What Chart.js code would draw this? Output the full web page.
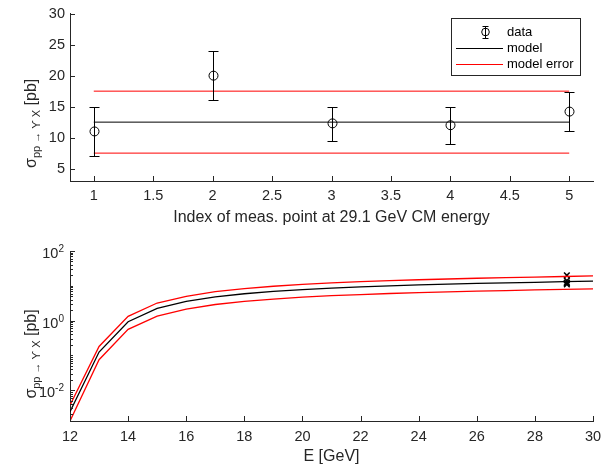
<!DOCTYPE html>
<html>
<head>
<meta charset="utf-8">
<script src="https://cdn.jsdelivr.net/npm/chart.js@4.4.0/dist/chart.umd.min.js"></script>
<style>
    html, body { margin: 0; padding: 0; background: #fff; }
    #wrap { position: relative; width: 611px; height: 465px; }
    #topChart { position: absolute; left: 0; top: 0; }
    #botChart { position: absolute; left: 0; top: 230px; }
</style>
</head>
<body>
<div id="wrap">
    <canvas id="topChart" width="611" height="230"></canvas>
    <canvas id="botChart" width="611" height="235"></canvas>
</div>
<script>
// top panel: measurements at 29.1 GeV
var pointIndex = [1, 2, 3, 4, 5];
var measValues = [11, 20, 12.3, 12, 14.2];
var measErrLow = [4, 4, 2.8, 3, 3.2];
var measErrHigh = [4, 4, 2.7, 3, 3.2];
var modelValue = 12.5;
var modelErrUpper = 17.5;
var modelErrLower = 7.5;
var indexTicks = [1, 1.5, 2, 2.5, 3, 3.5, 4, 4.5, 5];
var topYTicks = [5, 10, 15, 20, 25, 30];

// bottom panel: model vs energy
var energies = [12, 13, 14, 15, 16, 17, 18, 19, 20, 21, 22, 23, 24, 25, 26, 27, 28, 29, 30];
var modelCurve = [0.0024, 0.125, 0.93, 2.25, 3.55, 4.8, 5.9, 6.9, 7.8, 8.6, 9.3, 10.0, 10.6, 11.2, 11.7, 12.2, 12.6, 13.1, 13.6];
var modelCurveUpper = [0.0037, 0.18, 1.32, 3.2, 5.0, 6.8, 8.3, 9.7, 11.0, 12.1, 13.1, 14.1, 14.9, 15.7, 16.5, 17.2, 17.8, 18.5, 19.2];
var modelCurveLower = [0.0013, 0.075, 0.56, 1.35, 2.15, 2.9, 3.55, 4.15, 4.7, 5.2, 5.6, 6.0, 6.4, 6.7, 7.0, 7.3, 7.6, 7.9, 8.2];
var measEnergy = 29.1;
var energyTicks = [12, 14, 16, 18, 20, 22, 24, 26, 28, 30];
var logTicks = [0.01, 1, 100];

var FONT = '"Liberation Sans", Arial, Helvetica, sans-serif';
var AXIS_COLOR = '#262626';
var TICK_SIZE = 14.5;

function xyPairs(xs, ys) {
    return xs.map(function(x, i) { return { x: x, y: ys[i] }; });
}

function drawInnerTicks(chart, len) {
    var ctx = chart.ctx, a = chart.chartArea;
    var xs = chart.scales.x, ys = chart.scales.y;
    ctx.save();
    ctx.strokeStyle = AXIS_COLOR;
    ctx.lineWidth = 1;
    ctx.beginPath();
    xs.ticks.forEach(function(t) {
        var x = Math.round(xs.getPixelForValue(t.value)) + 0.5;
        ctx.moveTo(x, a.bottom);
        ctx.lineTo(x, a.bottom - len);
    });
    ys.ticks.forEach(function(t) {
        var y = Math.round(ys.getPixelForValue(t.value)) + 0.5;
        ctx.moveTo(a.left, y);
        ctx.lineTo(a.left + len, y);
    });
    ctx.stroke();
    ctx.restore();
}

function drawYLabel(ctx, x, cy) {
    var parts = [
        { text: '\u03C3', size: 16, dy: 0 },
        { text: 'pp \u2192 \u03D2 X', size: 11, dy: 4 },
        { text: ' [pb]', size: 16, dy: 0 }
    ];
    ctx.save();
    ctx.fillStyle = AXIS_COLOR;
    var total = 0;
    parts.forEach(function(p) {
        ctx.font = p.size + 'px ' + FONT;
        p.w = ctx.measureText(p.text).width;
        total += p.w;
    });
    ctx.translate(x, cy);
    ctx.rotate(-Math.PI / 2);
    ctx.textAlign = 'left';
    ctx.textBaseline = 'alphabetic';
    var px = -total / 2;
    parts.forEach(function(p) {
        ctx.font = p.size + 'px ' + FONT;
        ctx.fillText(p.text, px, p.dy);
        px += p.w;
    });
    ctx.restore();
}

function drawErrorGlyph(ctx, x, y, yLow, yHigh, r, cap) {
    ctx.beginPath();
    ctx.moveTo(x, yLow); ctx.lineTo(x, yHigh);
    ctx.moveTo(x - cap, yLow); ctx.lineTo(x + cap, yLow);
    ctx.moveTo(x - cap, yHigh); ctx.lineTo(x + cap, yHigh);
    ctx.stroke();
    ctx.beginPath();
    ctx.arc(x, y, r, 0, Math.PI * 2);
    ctx.stroke();
}

var topDecor = {
    id: 'topDecor',
    afterDatasetsDraw: function(chart) {
        var ctx = chart.ctx, xs = chart.scales.x, ys = chart.scales.y;
        ctx.save();
        ctx.strokeStyle = '#000';
        ctx.lineWidth = 1;
        pointIndex.forEach(function(p, i) {
            var x = Math.round(xs.getPixelForValue(p)) + 0.5;
            drawErrorGlyph(ctx, x,
                ys.getPixelForValue(measValues[i]),
                Math.round(ys.getPixelForValue(measValues[i] - measErrLow[i])) + 0.5,
                Math.round(ys.getPixelForValue(measValues[i] + measErrHigh[i])) + 0.5,
                4.5, 5);
        });
        ctx.restore();
    },
    afterDraw: function(chart) {
        var ctx = chart.ctx, a = chart.chartArea;
        drawInnerTicks(chart, 5);
        drawYLabel(ctx, 36, (a.top + a.bottom) / 2 + 26);

        // legend box
        var bx = 451.5, by = 18.5, bw = 129, bh = 57;
        ctx.save();
        ctx.fillStyle = '#fff';
        ctx.fillRect(bx, by, bw, bh);
        ctx.strokeStyle = AXIS_COLOR;
        ctx.lineWidth = 1;
        ctx.strokeRect(bx, by, bw, bh);

        ctx.strokeStyle = '#000';
        drawErrorGlyph(ctx, 485.5, 32, 38.5, 26.5, 3.8, 3);
        ctx.beginPath();
        ctx.moveTo(456, 48.5); ctx.lineTo(503, 48.5);
        ctx.stroke();
        ctx.strokeStyle = '#ff0000';
        ctx.beginPath();
        ctx.moveTo(456, 64.5); ctx.lineTo(503, 64.5);
        ctx.stroke();

        ctx.fillStyle = '#000';
        ctx.font = '13px ' + FONT;
        ctx.textAlign = 'left';
        ctx.textBaseline = 'middle';
        ctx.fillText('data', 507, 32);
        ctx.fillText('model', 507, 48.5);
        ctx.fillText('model error', 507, 64.5);
        ctx.restore();
    }
};

var botDecor = {
    id: 'botDecor',
    afterDraw: function(chart) {
        var ctx = chart.ctx, a = chart.chartArea, ys = chart.scales.y;
        drawInnerTicks(chart, 5);

        // minor log ticks
        ctx.save();
        ctx.strokeStyle = AXIS_COLOR;
        ctx.lineWidth = 1;
        ctx.beginPath();
        for (var k = -3; k <= 1; k++) {
            for (var m = 1; m <= 9; m++) {
                var v = m * Math.pow(10, k);
                if (v < ys.min || v > ys.max) continue;
                var y = Math.round(ys.getPixelForValue(v)) + 0.5;
                ctx.moveTo(a.left, y);
                ctx.lineTo(a.left + 3, y);
            }
        }
        ctx.stroke();

        // 10^n tick labels
        ctx.fillStyle = AXIS_COLOR;
        ctx.textBaseline = 'alphabetic';
        ctx.textAlign = 'left';
        logTicks.forEach(function(v) {
            var expo = String(Math.round(Math.log10(v)));
            var y = ys.getPixelForValue(v);
            ctx.font = '10px ' + FONT;
            var sw = ctx.measureText(expo).width;
            ctx.font = TICK_SIZE + 'px ' + FONT;
            var bw = ctx.measureText('10').width;
            var right = a.left - 6;
            ctx.fillText('10', right - sw - bw, y + 7);
            ctx.font = '10px ' + FONT;
            ctx.fillText(expo, right - sw, y + 1);
        });
        ctx.restore();

        drawYLabel(ctx, 36, (a.top + a.bottom) / 2 + 18);
    }
};

var topChart = new Chart(document.getElementById('topChart'), {
    type: 'scatter',
    data: {
        datasets: [
            { data: xyPairs([1, 5], [modelErrUpper, modelErrUpper]), showLine: true, borderColor: '#ff0000', borderWidth: 1, pointRadius: 0 },
            { data: xyPairs([1, 5], [modelErrLower, modelErrLower]), showLine: true, borderColor: '#ff0000', borderWidth: 1, pointRadius: 0 },
            { data: xyPairs([1, 5], [modelValue, modelValue]), showLine: true, borderColor: '#000', borderWidth: 1, pointRadius: 0 }
        ]
    },
    options: {
        responsive: false,
        animation: false,
        layout: { padding: { left: 0, right: 18, top: 10, bottom: 0 } },
        plugins: { legend: { display: false }, tooltip: { enabled: false } },
        scales: {
            x: {
                type: 'linear', min: 0.8, max: 5.2,
                afterBuildTicks: function(s) { s.ticks = indexTicks.map(function(v) { return { value: v }; }); },
                afterFit: function(s) { s.height = 49; },
                grid: { display: false, drawTicks: false },
                border: { display: true, color: AXIS_COLOR, width: 1 },
                ticks: { color: AXIS_COLOR, padding: 6, font: { family: FONT, size: TICK_SIZE }, maxRotation: 0,
                    callback: function(v) { return String(v); } },
                title: { display: true, text: 'Index of meas. point at 29.1 GeV CM energy', color: AXIS_COLOR,
                    font: { family: FONT, size: 16 }, padding: { top: 0, bottom: 3 } }
            },
            y: {
                type: 'linear', min: 3, max: 30,
                afterBuildTicks: function(s) { s.ticks = topYTicks.map(function(v) { return { value: v }; }); },
                afterFit: function(s) { s.width = 70; },
                grid: { display: false, drawTicks: false },
                border: { display: true, color: AXIS_COLOR, width: 1 },
                ticks: { color: AXIS_COLOR, padding: 5, font: { family: FONT, size: TICK_SIZE } }
            }
        }
    },
    plugins: [topDecor]
});

var botChart = new Chart(document.getElementById('botChart'), {
    type: 'scatter',
    data: {
        datasets: [
            { data: xyPairs(energies, modelCurveUpper), showLine: true, borderColor: '#ff0000', borderWidth: 1.3, pointRadius: 0 },
            { data: xyPairs(energies, modelCurveLower), showLine: true, borderColor: '#ff0000', borderWidth: 1.3, pointRadius: 0 },
            { data: xyPairs(energies, modelCurve), showLine: true, borderColor: '#000', borderWidth: 1.3, pointRadius: 0 },
            { data: measValues.map(function(v) { return { x: measEnergy, y: v }; }), showLine: false,
              pointStyle: 'crossRot', pointRadius: 4, borderColor: '#000', borderWidth: 1.5 }
        ]
    },
    options: {
        responsive: false,
        animation: false,
        layout: { padding: { left: 0, right: 18, top: 21, bottom: 0 } },
        plugins: { legend: { display: false }, tooltip: { enabled: false } },
        scales: {
            x: {
                type: 'linear', min: 12, max: 30,
                afterBuildTicks: function(s) { s.ticks = energyTicks.map(function(v) { return { value: v }; }); },
                afterFit: function(s) { s.height = 44; },
                grid: { display: false, drawTicks: false },
                border: { display: true, color: AXIS_COLOR, width: 1 },
                ticks: { color: AXIS_COLOR, padding: 7, font: { family: FONT, size: TICK_SIZE }, maxRotation: 0 },
                title: { display: true, text: 'E [GeV]', color: AXIS_COLOR,
                    font: { family: FONT, size: 16, lineHeight: 1 }, padding: { top: 0, bottom: 0 } }
            },
            y: {
                type: 'logarithmic', min: 0.0013, max: 100,
                afterBuildTicks: function(s) { s.ticks = logTicks.map(function(v) { return { value: v }; }); },
                afterFit: function(s) { s.width = 70; },
                grid: { display: false, drawTicks: false },
                border: { display: true, color: AXIS_COLOR, width: 1 },
                ticks: { padding: 5, callback: function() { return ''; } }
            }
        }
    },
    plugins: [botDecor]
});
</script>
</body>
</html>
